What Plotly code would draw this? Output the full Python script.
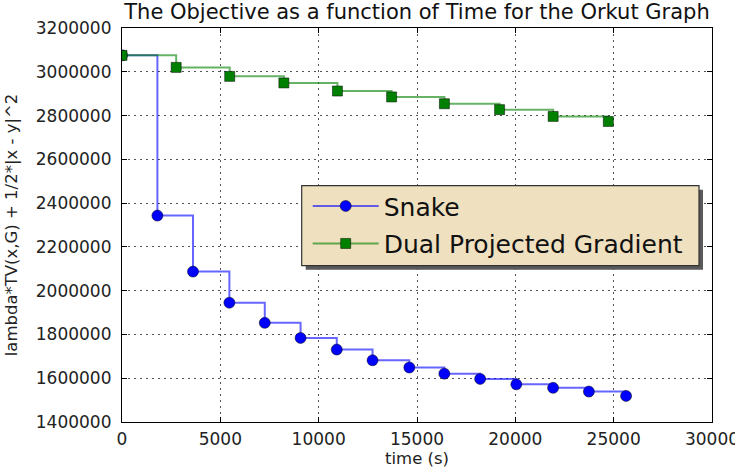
import plotly.graph_objects as go

# ---- data ----
snake_time = [0, 1800, 3610, 5460, 7260, 9080, 10920, 12740, 14610, 16390,
              18210, 20050, 21920, 23740, 25630]
snake_obj = [3075000, 2343000, 2087000, 1945000, 1853000, 1784000, 1731000,
             1682000, 1649000, 1621000, 1597000, 1572000, 1556000, 1539000, 1519000]
dpg_time = [0, 2755, 5476, 8230, 10954, 13709, 16393, 19199, 21923, 24729]
dpg_obj = [3075000, 3020000, 2979000, 2949000, 2912000, 2885000, 2854000,
           2827000, 2796000, 2773000]

x_ticks = [0, 5000, 10000, 15000, 20000, 25000, 30000]
y_ticks = [1400000, 1600000, 1800000, 2000000, 2200000, 2400000, 2600000,
           2800000, 3000000, 3200000]

FONT = "DejaVu Sans"
W, H = 735, 468
L, R, T, B = 122, 23, 28, 46
PW, PH = W - L - R, H - T - B


def px(xp):
    return (xp - L) / PW


def py(yp):
    return (H - B - yp) / PH


fig = go.Figure()
fig.add_trace(go.Scatter(
    x=snake_time, y=snake_obj, name="Snake", mode="lines+markers",
    legendgroup="a",
    line=dict(color="rgba(0,0,255,0.6)", width=2, shape="hv"),
    marker=dict(symbol="circle", size=11, color="#0000ff",
                line=dict(color="#000000", width=0.5)),
))
fig.add_trace(go.Scatter(
    x=dpg_time, y=dpg_obj, name="Dual Projected Gradient", mode="lines+markers",
    legendgroup="b",
    line=dict(color="rgba(0,128,0,0.6)", width=2, shape="hv"),
    marker=dict(symbol="square", size=10, color="#008000",
                line=dict(color="#000000", width=0.5)),
))

axis_common = dict(
    showline=True, linecolor="#000000", linewidth=1.2, mirror="allticks",
    ticks="inside", ticklen=5, tickcolor="#000000", automargin=False,
    ticklabeloverflow="allow",
    showgrid=True, gridcolor="#555555", griddash="2px,4px", gridwidth=1,
    zeroline=False, tickfont=dict(family=FONT, size=17, color="#222222"),
)

fig.update_xaxes(range=[0, 30000], tickvals=x_ticks,
                 ticktext=[str(v) for v in x_ticks], ticklabelstandoff=1,
                 title=dict(text="time (s)", font=dict(family=FONT, size=16.5, color="#222222"),
                            standoff=17),
                 **axis_common)
fig.update_yaxes(range=[1400000, 3200000], tickvals=y_ticks,
                 ticktext=[str(v) for v in y_ticks], ticklabelstandoff=6,
                 title=dict(text="lambda*TV(x,G) + 1/2*|x - y|^2",
                            font=dict(family=FONT, size=16.5, color="#222222"), standoff=14),
                 **axis_common)

# legend box with shadow (drawn as shapes, legend itself transparent)
lx0, lx1, ly0, ly1 = 301.7, 699, 185.7, 265.7
fig.add_shape(type="rect", xref="paper", yref="paper", layer="above",
              x0=px(lx0 + 4), x1=px(lx1 + 4), y0=py(ly1 + 4), y1=py(ly0 + 4),
              fillcolor="#5a5a5a", line=dict(width=0))
fig.add_shape(type="rect", xref="paper", yref="paper", layer="above",
              x0=px(lx0), x1=px(lx1), y0=py(ly1), y1=py(ly0),
              fillcolor="#efe0bf", line=dict(color="#333333", width=1.2))

fig.update_layout(
    width=W, height=H,
    margin=dict(l=L, r=R, t=T, b=B, pad=0, autoexpand=False),
    paper_bgcolor="#ffffff", plot_bgcolor="#ffffff",
    title=dict(text="The Objective as a function of Time for the Orkut Graph",
               font=dict(family=FONT, size=21, color="#111111"),
               x=(L + PW / 2) / W, xanchor="center", y=1 - 12 / H, yanchor="middle"),
    font=dict(family=FONT),
    showlegend=True,
    legend=dict(x=px(lx0 + 6), y=py(ly0 - 2.5), xanchor="left", yanchor="top",
                bgcolor="rgba(0,0,0,0)", borderwidth=0, traceorder="grouped",
                font=dict(family=FONT, size=25, color="#111111"),
                itemwidth=66, tracegroupgap=2),
)

fig.write_html("out.html")
